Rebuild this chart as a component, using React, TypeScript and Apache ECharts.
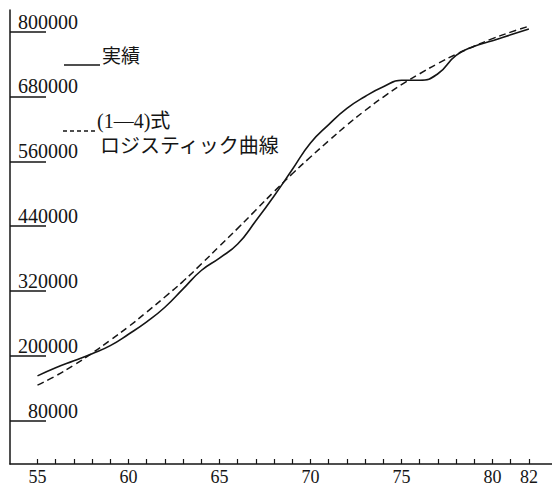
import React, { useEffect, useRef } from 'react';
import * as echarts from 'echarts';

const years = [55, 56, 57, 58, 59, 60, 61, 62, 63, 64, 65, 66, 67, 68, 69, 70, 71, 72, 73, 74, 75, 76, 77, 78, 79, 80, 81, 82];
const actual = [163000, 178000, 191000, 204000, 219000, 240000, 263000, 290000, 324000, 358000, 381000, 407000, 450000, 496000, 545000, 594000, 628000, 658000, 680000, 698000, 710000, 710000, 722000, 756000, 773000, 783000, 794000, 805000];
const logistic = [146000, 163000, 183000, 205000, 229000, 254000, 281000, 309000, 338000, 370000, 403000, 436000, 470000, 504000, 537000, 568000, 598000, 627000, 654000, 679000, 702000, 722000, 741000, 758000, 773000, 787000, 799000, 810000];
const yTickValues = [80000, 200000, 320000, 440000, 560000, 680000, 800000];
const xLabelValues = [55, 60, 65, 70, 75, 80, 82];
const xTickValues = years;
const nameActual = '実績';
const nameLogistic1 = '(1—4)式';
const nameLogistic2 = 'ロジスティック曲線';

const SERIF = '"Liberation Serif", "DejaVu Serif", "Noto Sans CJK JP", serif';
const CJK = '"Liberation Serif", "Noto Sans CJK JP", sans-serif';
const INK = '#151515';

export default function App() {
  const ref = useRef<HTMLDivElement>(null);
  useEffect(() => {
    document.body.style.margin = '0';
    const chart = echarts.init(ref.current!, null, { renderer: 'svg' });
    chart.setOption({
      animation: false,
      backgroundColor: '#ffffff',
      grid: { left: 10, right: 0, top: 10, bottom: 20 },
      xAxis: {
        type: 'value',
        min: 53.49,
        max: 83.27,
        axisLine: { onZero: false, lineStyle: { color: INK, width: 1.5 } },
        axisTick: { show: true, inside: true, length: 5, customValues: xTickValues, lineStyle: { color: INK, width: 1.2 } },
        axisLabel: { customValues: xLabelValues, fontSize: 18, fontFamily: SERIF, color: INK, margin: 4 },
        splitLine: { show: false },
      },
      yAxis: {
        type: 'value',
        min: 0,
        max: 840000,
        axisLine: { show: true, lineStyle: { color: INK, width: 1.5 } },
        axisTick: { show: true, inside: true, length: 36, customValues: yTickValues, lineStyle: { color: INK, width: 1.5 } },
        axisLabel: {
          inside: true,
          customValues: yTickValues,
          formatter: (v: number) => String(v),
          align: 'right',
          verticalAlign: 'bottom',
          margin: 68,
          fontSize: 20,
          fontFamily: SERIF,
          color: INK,
        },
        splitLine: { show: false },
      },
      series: [
        {
          type: 'line',
          name: nameActual,
          data: years.map((y, i) => [y, actual[i]]),
          smooth: 0.5,
          showSymbol: false,
          symbol: 'none',
          lineStyle: { color: INK, width: 1.6 },
        },
        {
          type: 'line',
          name: nameLogistic1 + nameLogistic2,
          data: years.map((y, i) => [y, logistic[i]]),
          smooth: 0.5,
          showSymbol: false,
          symbol: 'none',
          lineStyle: { color: INK, width: 1.5, type: [7, 4] },
        },
      ],
      graphic: [
        { type: 'line', shape: { x1: 64, y1: 65, x2: 100, y2: 65 }, style: { stroke: INK, lineWidth: 1.5 } },
        { type: 'text', x: 102, y: 56, style: { text: nameActual, fontSize: 19, fontFamily: CJK, fill: INK, verticalAlign: 'middle' } },
        { type: 'line', shape: { x1: 63, y1: 131, x2: 95, y2: 131 }, style: { stroke: INK, lineWidth: 1.5, lineDash: [4, 3] } },
        { type: 'text', x: 97, y: 121, style: { text: nameLogistic1, fontSize: 20, fontFamily: CJK, fill: INK, verticalAlign: 'middle' } },
        { type: 'text', x: 100, y: 146, style: { text: nameLogistic2, fontSize: 20, fontFamily: CJK, fill: INK, verticalAlign: 'middle' } },
      ],
    });
    return () => chart.dispose();
  }, []);
  return <div ref={ref} style={{ width: 552, height: 486 }} />;
}
